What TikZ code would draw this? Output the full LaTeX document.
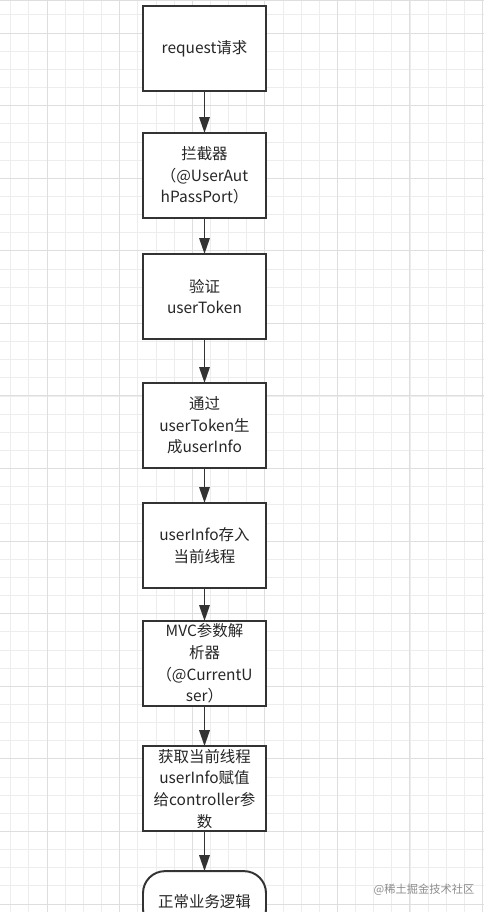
\documentclass[tikz,border=0pt]{standalone}
\usepackage{fontspec}
\setmainfont{Noto Sans CJK SC}
\usetikzlibrary{positioning,arrows.meta}

\begin{document}
\begin{tikzpicture}[
    node distance=1cm,
    stepBox/.style={rectangle, draw=black!80, line width=1.4pt, fill=white, outer sep=0pt, minimum width=3.075cm, minimum height=2.125cm, align=center, inner sep=2pt, font=\fontsize{11}{15.4}\selectfont, text=black!85},
    endBox/.style={stepBox, rounded corners=0.55cm, minimum height=1.5cm},
    flowArrow/.style={-{Triangle[length=0.4cm, width=0.26cm]}, line width=1.4pt, draw=black!80},
    gridMinor/.style={draw=black!7, line width=0.5pt},
    gridMajor/.style={draw=black!13, line width=0.6pt},
    markText/.style={font=\fontsize{8}{10}\selectfont, text=black!45}
]

\useasboundingbox (0,0) rectangle (12.1,-22.8);
\clip (0,0) rectangle (12.1,-22.8);

% ================= BACKGROUND GRID =================
\begin{scope}[x=0.025cm, y=-0.025cm]
    \foreach \i in {0,...,26} {
        \draw[gridMinor] ({10.7+18.15*\i},0) -- ++(0,912);
    }
    \foreach \i in {0,...,50} {
        \draw[gridMinor] (0,{14.85+18.15*\i}) -- ++(484,0);
    }
    \foreach \i in {0,...,6} {
        \draw[gridMajor] ({47+72.6*\i},0) -- ++(0,912);
    }
    \foreach \i in {0,...,12} {
        \draw[gridMajor] (0,{33+72.6*\i}) -- ++(484,0);
    }
    \draw[gridMajor] (0,0.6) -- (484,0.6);
\end{scope}

% ================= FLOW STEPS =================
\node[stepBox] (request) at (5.1125,-1.2125) {request请求};
\node[stepBox, below=1.05cm of request] (interceptor) {拦截器\\（@UserAut\\hPassPort）};
\node[stepBox, below=0.9cm of interceptor] (verify) {验证\\userToken};
\node[stepBox, below=1.1cm of verify] (genInfo) {通过\\userToken生\\成userInfo};
\node[stepBox, below=0.875cm of genInfo] (storeInfo) {userInfo存入\\当前线程};
\node[stepBox, below=0.825cm of storeInfo] (resolver) {MVC参数解\\析器\\（@CurrentU\\ser）};
\node[stepBox, below=1cm of resolver] (assign) {获取当前线程\\userInfo赋值\\给controller参\\数};
\node[endBox, below=1cm of assign] (business) {正常业务逻辑};

% ================= ARROWS =================
\draw[flowArrow] (request) -- (interceptor);
\draw[flowArrow] (interceptor) -- (verify);
\draw[flowArrow] (verify) -- (genInfo);
\draw[flowArrow] (genInfo) -- (storeInfo);
\draw[flowArrow] (storeInfo) -- (resolver);
\draw[flowArrow] (resolver) -- (assign);
\draw[flowArrow] (assign) -- (business);

% ================= WATERMARK =================
\node[markText] (mark) at (10.6,-22.25) {@稀土掘金技术社区};

\end{tikzpicture}
\end{document}
